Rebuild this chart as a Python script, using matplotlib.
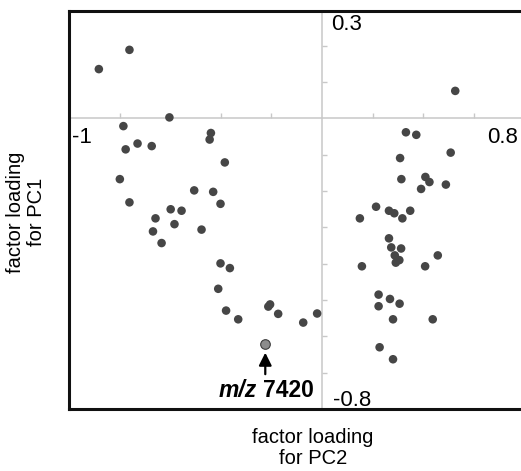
import matplotlib.pyplot as plt

plt.rcParams['font.family'] = ['Liberation Sans', 'DejaVu Sans']

# factor loadings (PC2 on x, PC1 on y)
pc2_left = [-0.882, -0.761, -0.603, -0.785, -0.439, -0.444, -0.776, -0.729, -0.673, -0.384,
            -0.799, -0.505, -0.430, -0.761, -0.401, -0.598, -0.555, -0.658, -0.583, -0.668,
            -0.476, -0.634, -0.401, -0.364, -0.410, -0.212, -0.205, -0.379, -0.173, -0.331,
            -0.074, -0.019]
pc1_left = [0.136, 0.189, 0.003, -0.021, -0.040, -0.058, -0.085, -0.069, -0.076, -0.121,
            -0.167, -0.198, -0.202, -0.231, -0.235, -0.250, -0.254, -0.275, -0.291, -0.311,
            -0.306, -0.343, -0.399, -0.412, -0.469, -0.518, -0.512, -0.529, -0.538, -0.553,
            -0.562, -0.537]

pc2_right = [0.527, 0.332, 0.373, 0.309, 0.509, 0.314, 0.409, 0.425, 0.392, 0.490,
             0.214, 0.150, 0.265, 0.286, 0.318, 0.349, 0.265, 0.274, 0.313, 0.288,
             0.306, 0.292, 0.458, 0.158, 0.408, 0.224, 0.269, 0.307, 0.224, 0.281,
             0.438, 0.228, 0.281]
pc1_right = [0.076, -0.038, -0.045, -0.109, -0.094, -0.167, -0.161, -0.175, -0.194, -0.182,
             -0.243, -0.275, -0.254, -0.261, -0.275, -0.254, -0.330, -0.355, -0.358, -0.377,
             -0.390, -0.397, -0.377, -0.407, -0.407, -0.485, -0.497, -0.510, -0.517, -0.553,
             -0.553, -0.630, -0.663]

# highlighted peak
hl_label = 'm/z'
hl_mass = '7420'
hl_pc2 = -0.224
hl_pc1 = -0.620

x_range = (-1.0, 0.787)
y_range = (-0.80, 0.296)
x_ticks = [-0.8, -0.6, -0.4, -0.2, 0.2, 0.4, 0.6]
y_ticks = [-0.7, -0.6, -0.5, -0.4, -0.3, -0.2, -0.1, 0.1, 0.2]

fig = plt.figure(figsize=(5.21, 4.71), dpi=100)
pos = [69 / 521, 1 - 409 / 471, 1 - 69 / 521, (409 - 11) / 471]
ax = fig.add_axes(pos)

# gray axes through the origin
grey = '#c8c8c8'
for s in ['left', 'bottom']:
    ax.spines[s].set_position(('data', 0))
    ax.spines[s].set_color(grey)
    ax.spines[s].set_linewidth(1.1)
for s in ['top', 'right']:
    ax.spines[s].set_visible(False)
ax.set_xticks(x_ticks)
ax.set_yticks(y_ticks)
ax.tick_params(direction='in', length=3.5, width=1, color=grey,
               labelbottom=False, labelleft=False)
ax.set_xlim(*x_range)
ax.set_ylim(*y_range)

dot = '#464646'
ax.scatter(pc2_left, pc1_left, s=38, color=dot, edgecolors='none', zorder=3)
ax.scatter(pc2_right, pc1_right, s=38, color=dot, edgecolors='none', zorder=3)
ax.scatter([hl_pc2], [hl_pc1], s=48, color='#8c8c8c', edgecolors='#3c3c3c',
           linewidths=0.8, zorder=3)

ax.annotate('', xy=(hl_pc2, hl_pc1), xytext=(0, -22), textcoords='offset points',
            arrowprops=dict(arrowstyle='-|>', color='black', lw=1.6,
                            mutation_scale=19, shrinkA=0, shrinkB=6.5))
ax.annotate(hl_label, xy=(hl_pc2, hl_pc1), xytext=(-6, -38.5), textcoords='offset points',
            ha='right', va='baseline', fontsize=16.5, fontweight='bold', style='italic')
ax.annotate(hl_mass, xy=(hl_pc2, hl_pc1), xytext=(-2, -38.5), textcoords='offset points',
            ha='left', va='baseline', fontsize=16.5, fontweight='bold')

# end labels of the axes
ax.text(0.038, 0.287, '0.3', ha='left', va='top', fontsize=16)
ax.text(-0.989, -0.024, '-1', ha='left', va='top', fontsize=16)
ax.text(0.775, -0.024, '0.8', ha='right', va='top', fontsize=16)
ax.text(0.044, -0.792, '-0.8', ha='left', va='baseline', fontsize=16)

# outer frame
frame = fig.add_axes(pos, facecolor='none')
frame.set_xticks([])
frame.set_yticks([])
frame.spines['right'].set_visible(False)
for s in ['left', 'top', 'bottom']:
    frame.spines[s].set_linewidth(2.2)
    frame.spines[s].set_color('#111111')

fig.text(313 / 521, 1 - 448 / 471, 'factor loading\nfor PC2', ha='center', va='center',
         fontsize=14.5, linespacing=1.12)
fig.text(26 / 521, 1 - 212 / 471, 'factor loading\nfor PC1', ha='center', va='center',
         fontsize=14.5, rotation=90, linespacing=1.12)

fig.savefig('out.png', dpi=100)
